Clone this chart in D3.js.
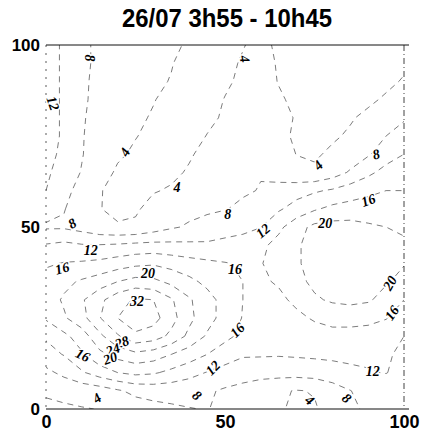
<!DOCTYPE html>
<html>
<head>
<meta charset="utf-8">
<script src="https://cdn.jsdelivr.net/npm/d3@7/dist/d3.min.js"></script>
<style>
  body { margin: 0; background: #fff; }
</style>
</head>
<body>
<svg id="chart" width="423" height="439"></svg>
<script>
// grid, 5 units apart, top row is y=100
const gridX = d3.range(0, 101, 5);
const gridY = d3.range(100, -1, -5);
const zRows = [
  [13.5, 11.5, 9, 7, 6, 5.3, 4.8, 4.3, 3.8, 3, 3.2, 3.9, 4.6, 3.6, 3, 2.6, 2.5, 2.5, 2.6, 2.7, 2.8],
  [13.5, 11.5, 9, 7, 5.8, 5, 4.5, 4.1, 3.3, 3, 3.5, 4.2, 4.8, 3.8, 3, 2.6, 2.5, 2.6, 2.8, 3.2, 3.6],
  [13.5, 11.5, 8.8, 6.8, 5.5, 4.7, 4.4, 3.9, 3.2, 3, 3.6, 4.5, 5, 3.9, 3.2, 2.8, 2.7, 2.8, 3, 3.5, 4.2],
  [13.5, 11.5, 8.8, 6.5, 5.2, 4.5, 4.1, 3.4, 3, 3, 4.1, 5, 5.5, 4.3, 3.5, 3, 3, 3.2, 3.6, 4.3, 5.2],
  [13.5, 11.5, 8.5, 6.2, 4.8, 4.4, 3.8, 3.1, 2.8, 3.3, 4.4, 5.6, 6, 4.8, 3.8, 3.3, 3.4, 3.8, 4.5, 6, 7.5],
  [13.5, 11.5, 8.3, 6, 4.6, 4.1, 3.4, 2.9, 2.8, 4.1, 5.2, 6.2, 6.5, 4.5, 3.7, 3.5, 3.7, 4.3, 6, 8, 10],
  [13, 11.3, 8.2, 6, 4.4, 3.6, 3, 2.8, 3.7, 4.8, 6, 7, 7, 5, 3.95, 3.7, 4.4, 5.5, 7.6, 10, 12],
  [12.8, 10, 7.8, 5.2, 3.6, 3, 2.8, 3.4, 4.3, 5.5, 6.8, 7.5, 7.8, 6.2, 4.8, 4.4, 6, 8.5, 11, 13.5, 15],
  [12, 9, 6.8, 4.2, 3, 2.6, 3.8, 4.3, 5.2, 6, 6.8, 7.5, 8.2, 9.5, 10.5, 11.5, 12.5, 14, 15.5, 16, 16],
  [9.5, 8.2, 6, 4.1, 3.3, 3.6, 5, 6, 6.8, 7.3, 7.8, 8.8, 10, 11.5, 13.5, 15.5, 17, 17.5, 17, 17, 17.5],
  [7.5, 7.5, 6.5, 5, 4.3, 4.5, 6, 7.5, 8.5, 9.5, 10.5, 10.8, 11.9, 15, 18.5, 21, 21.5, 21.5, 20.8, 20, 19.5],
  [12.3, 13, 12.3, 12.2, 12.5, 13, 13.2, 13, 12.8, 12.6, 13, 13.8, 15, 17.5, 19.5, 21.5, 22.5, 23, 22.5, 21.5, 20.5],
  [15.5, 16.2, 16.5, 17, 18, 19, 19.5, 18.5, 17.5, 16.8, 16.2, 15.6, 15.8, 17.5, 19.5, 21.5, 23, 23.5, 23, 21.5, 20.2],
  [17.5, 19, 20.5, 22, 24, 25.5, 25, 23, 21, 19, 17.5, 16, 15.3, 16.5, 19, 20.8, 22, 22.5, 22, 20.4, 18.8],
  [18, 20.5, 23.5, 27, 30.5, 32.5, 32, 28.5, 24.5, 21.5, 18.5, 16, 14.5, 15, 17, 19.5, 20.5, 21, 20.5, 18.5, 16],
  [16.5, 19.5, 22.5, 27.8, 32, 35, 33.5, 29.5, 25, 21.5, 18.5, 15.8, 13.5, 13.5, 15, 16.5, 17.5, 17.5, 17, 16.2, 14],
  [12.5, 15, 18, 23, 27.5, 31, 30, 27, 23, 19.5, 17, 15, 13, 12.8, 13.5, 14, 14.5, 14.5, 14.5, 13.5, 12],
  [10.5, 12.2, 15.5, 19, 21.5, 23, 22, 20, 18, 16, 14, 12.4, 12.4, 12.3, 12.5, 12.7, 12.8, 12.8, 12.6, 12.3, 11.5],
  [7, 9, 11.5, 14, 16, 17, 16.5, 15, 13.5, 11.8, 10.5, 10, 9.5, 9.5, 9.5, 9.8, 10.5, 11.3, 11.8, 12.1, 11],
  [4.5, 5, 5.5, 6, 7.5, 9, 9.5, 9.5, 9, 8.5, 7.5, 6.5, 5.5, 4.5, 3.8, 4.2, 6, 7.9, 9.5, 10.2, 10.5],
  [3.2, 3.5, 3.8, 4.1, 5, 6, 6.8, 7.4, 7.9, 8.1, 7.4, 6.2, 5, 4.3, 3.5, 3.7, 5.2, 7.2, 8.7, 9.5, 10]
];
const levels = [4, 8, 12, 16, 20, 24, 28, 32];

// contour labels as printed on the map
const labelText = ["8", "4", "12", "4", "4", "8", "8", "12", "16", "20", "16", "12", "20", "16", "8", "4",
  "20", "16", "12", "32", "28", "24", "20", "16", "16", "12", "4", "8", "4", "8"];
const labelX = [12.3, 55.6, 2, 22, 36.6, 50.8, 7.3, 12.5, 4.5, 28.5, 52.8, 60.6, 78, 90, 92.2, 76,
  96, 96.6, 91.3, 25.4, 21.2, 18.7, 17.9, 10.3, 53.4, 46.6, 14.2, 42.2, 73.7, 84];
const labelY = [96.4, 96.2, 84, 70.6, 61, 53.6, 51, 43.7, 38.7, 37.4, 38.5, 49, 51, 57.4, 70, 67,
  34.6, 26.4, 10.4, 29.7, 18.4, 16.4, 14, 14.8, 21.7, 11.3, 3, 3.8, 2.5, 3];
const labelAngle = [90, 80, 70, -60, 0, 0, -30, 0, -15, 0, 0, -40, 0, -20, -15, -45,
  -60, -55, 0, 0, -20, -20, -20, 25, -45, -45, -35, 40, 40, 40];

const xTicks = [0, 50, 100];
const yTicks = [0, 50, 100];
const title = "26/07 3h55 - 10h45";

const margin = { left: 46, right: 19, top: 45, bottom: 30 };
const W = 423, H = 439;
const x = d3.scaleLinear().domain([0, 100]).range([margin.left, W - margin.right]);
const y = d3.scaleLinear().domain([0, 100]).range([H - margin.bottom, margin.top]);

const svg = d3.select("#chart");

svg.append("text")
  .attr("x", 227).attr("y", 27)
  .attr("text-anchor", "middle")
  .attr("font-family", "'Liberation Sans', Arial, sans-serif")
  .attr("font-size", 25).attr("font-weight", "bold")
  .attr("textLength", 210).attr("lengthAdjust", "spacingAndGlyphs")
  .text(title);

svg.append("clipPath").attr("id", "plot")
  .append("rect")
  .attr("x", x(0)).attr("y", y(100))
  .attr("width", x(100) - x(0)).attr("height", y(0) - y(100));

// contours
const nx = gridX.length, ny = gridY.length;
const step = gridX[1] - gridX[0];
const contours = d3.contours().size([nx, ny]).thresholds(levels)(zRows.flat());
const proj = d3.geoTransform({
  point: function(gx, gy) {
    this.stream.point(x(gridX[0] + (gx - 0.5) * step), y(gridY[0] - (gy - 0.5) * step));
  }
});
const path = d3.geoPath(proj);

svg.append("g")
  .attr("clip-path", "url(#plot)")
  .selectAll("path")
  .data(contours)
  .enter()
  .append("path")
  .attr("d", path)
  .attr("fill", "none")
  .attr("stroke", "#444")
  .attr("stroke-width", 0.7)
  .attr("stroke-dasharray", "6,5");

// frame: solid top and bottom, broken sides
const frame = svg.append("g").attr("stroke", "#111").attr("fill", "none");
frame.append("line")
  .attr("x1", x(0)).attr("x2", x(100) + 5).attr("y1", y(100)).attr("y2", y(100))
  .attr("stroke-width", 1);
frame.append("line")
  .attr("x1", x(0)).attr("x2", x(100) + 5).attr("y1", y(0)).attr("y2", y(0))
  .attr("stroke-width", 1.2);
frame.append("line")
  .attr("x1", x(0)).attr("x2", x(0)).attr("y1", y(100)).attr("y2", y(0))
  .attr("stroke-width", 0.7).attr("stroke-dasharray", "2,6");
frame.append("line")
  .attr("x1", x(100)).attr("x2", x(100)).attr("y1", y(100)).attr("y2", y(0))
  .attr("stroke-width", 0.8).attr("stroke-dasharray", "6,3,1,3");

// contour labels
svg.append("g")
  .selectAll("text")
  .data(labelText)
  .enter()
  .append("text")
  .attr("transform", (d, i) => "translate(" + x(labelX[i]) + "," + y(labelY[i]) + ") rotate(" + labelAngle[i] + ")")
  .attr("text-anchor", "middle")
  .attr("dy", "0.35em")
  .attr("font-family", "'Liberation Serif', 'Times New Roman', serif")
  .attr("font-weight", "bold")
  .attr("font-style", "italic")
  .attr("font-size", 14)
  .attr("stroke", "#fff").attr("stroke-width", 3).attr("paint-order", "stroke")
  .text(d => d);

// axes, only the labels show
const xAxis = svg.append("g")
  .attr("transform", "translate(0," + (y(0) + 2) + ")")
  .call(d3.axisBottom(x).tickValues(xTicks).tickSize(0).tickPadding(4));
xAxis.select(".domain").remove();
xAxis.selectAll("text")
  .attr("font-size", 18).attr("font-weight", "bold")
  .attr("font-family", "'Liberation Sans', Arial, sans-serif")
  .attr("fill", "#000");

const yAxis = svg.append("g")
  .attr("transform", "translate(" + (x(0) - 5) + ",0)")
  .call(d3.axisLeft(y).tickValues(yTicks).tickSize(0).tickPadding(1));
yAxis.select(".domain").remove();
yAxis.selectAll("text")
  .attr("font-size", 17).attr("font-weight", "bold")
  .attr("font-family", "'Liberation Sans', Arial, sans-serif")
  .attr("fill", "#000");
</script>
</body>
</html>
